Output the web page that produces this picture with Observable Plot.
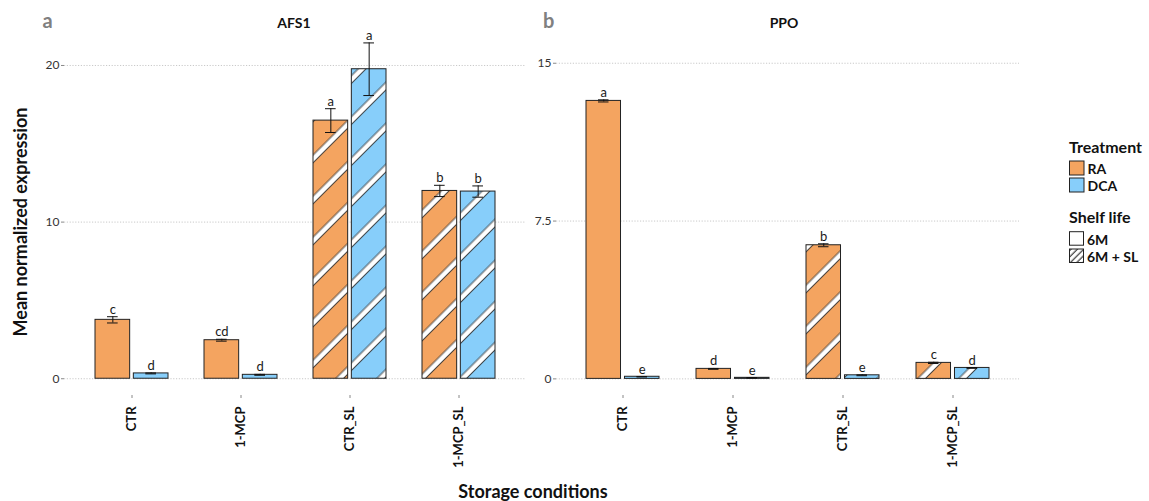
<!DOCTYPE html>
<html>
<head>
<meta charset="utf-8">
<script src="https://cdn.jsdelivr.net/npm/d3@7"></script>
<script src="https://cdn.jsdelivr.net/npm/@observablehq/plot@0.6"></script>
<style>
  body { margin: 0; background: #fff; }
  #wrap { position: relative; width: 1149px; height: 501px; overflow: hidden; font-family: Lato, "Open Sans", sans-serif; }
  #wrap > svg { position: absolute; top: 0; }
</style>
</head>
<body>
<div id="wrap"></div>
<script>
// Storage conditions and treatments
const conditions = ["CTR", "1-MCP", "CTR_SL", "1-MCP_SL"];
const treatments = ["RA", "DCA"];
const shelfLifeLevels = ["6M", "6M + SL"];
const shelfLife = ["6M", "6M", "6M + SL", "6M + SL"];

// AFS1: mean normalized expression, standard error, significance letters
const afs1RA = [3.76, 2.46, 16.48, 11.99];
const afs1RAse = [0.20, 0.06, 0.76, 0.36];
const afs1RAletters = ["c", "cd", "a", "b"];
const afs1DCA = [0.34, 0.25, 19.76, 11.95];
const afs1DCAse = [0.03, 0.03, 1.68, 0.36];
const afs1DCAletters = ["d", "d", "a", "b"];

// PPO
const ppoRA = [13.21, 0.475, 6.35, 0.76];
const ppoRAse = [0.05, 0.02, 0.07, 0.03];
const ppoRAletters = ["a", "d", "b", "c"];
const ppoDCA = [0.10, 0.05, 0.17, 0.52];
const ppoDCAse = [0.01, 0.01, 0.02, 0.02];
const ppoDCAletters = ["e", "e", "e", "d"];

const afs1Ticks = [0, 10, 20];
const ppoTicks = [0, 7.5, 15];

const treatmentColors = ["#F4A460", "#87CEFA"];

function buildRows(ra, raSe, raLet, dca, dcaSe, dcaLet) {
  return conditions.flatMap((c, i) => [
    {condition: c, treatment: "RA", shelf: shelfLife[i], mean: ra[i], se: raSe[i], letter: raLet[i]},
    {condition: c, treatment: "DCA", shelf: shelfLife[i], mean: dca[i], se: dcaSe[i], letter: dcaLet[i]}
  ]);
}

const afs1Rows = buildRows(afs1RA, afs1RAse, afs1RAletters, afs1DCA, afs1DCAse, afs1DCAletters);
const ppoRows = buildRows(ppoRA, ppoRAse, ppoRAletters, ppoDCA, ppoDCAse, ppoDCAletters);

function panel({rows, yDomain, yTicks, left, width, marginLeft, marginRight, id}) {
  const paddingInner = 1 / 3, paddingOuter = 0.2667;
  const plotW = width - marginLeft - marginRight;
  const step = plotW / (conditions.length - paddingInner + 2 * paddingOuter);
  const bw = step * (1 - paddingInner);   // width of a dodged pair
  const barW = 35;                         // width of one bar
  const gap = bw - barW;
  const off = gap / 2;
  const capHalf = 5.5;

  const marks = [
    Plot.ruleY(yTicks, {stroke: "#c9c9c9", strokeDasharray: "1.2,1.6", strokeWidth: 1})
  ];
  for (const t of treatments) {
    const data = rows.filter(d => d.treatment === t);
    const hatched = data.filter(d => d.shelf === "6M + SL");
    const isRA = t === "RA";
    const inset = isRA ? {insetRight: gap} : {insetLeft: gap};
    const dx = isRA ? -off : off;
    const capInset = isRA
      ? {insetLeft: barW / 2 - capHalf, insetRight: bw - barW / 2 - capHalf}
      : {insetLeft: bw - barW / 2 - capHalf, insetRight: barW / 2 - capHalf};
    marks.push(
      Plot.barY(data, {x: "condition", y: "mean", fill: "treatment", ...inset}),
      Plot.barY(hatched, {x: "condition", y: "mean", fill: `url(#${id}-hatch)`, ...inset}),
      Plot.barY(data, {x: "condition", y: "mean", fill: "none", stroke: "#222", strokeWidth: 1, ...inset}),
      Plot.ruleX(data, {x: "condition", y1: d => d.mean - d.se, y2: d => d.mean + d.se, dx, stroke: "#111", strokeWidth: 1}),
      Plot.tickY(data, {x: "condition", y: d => d.mean + d.se, stroke: "#111", strokeWidth: 1, ...capInset}),
      Plot.tickY(data, {x: "condition", y: d => d.mean - d.se, stroke: "#111", strokeWidth: 1, ...capInset}),
      Plot.text(data, {x: "condition", y: d => d.mean + d.se, text: "letter", dx, dy: -3, lineAnchor: "bottom", fontSize: 13, fill: "#1a1a1a"})
    );
  }
  marks.push(
    Plot.axisY({ticks: yTicks, tickFormat: d => String(d), tickSize: 3, tickPadding: 2, label: null, fontSize: 12, fill: "#333", stroke: "#888"}),
    Plot.axisX({tickRotate: -90, tickSize: 3, tickPadding: 8, label: null, fontSize: 13, fontWeight: "bold", fill: "#111", stroke: "#888"})
  );

  const svg = Plot.plot({
    width, height: 470,
    marginLeft, marginRight, marginTop: 25.5, marginBottom: 75,
    style: {background: "transparent", fontFamily: "Lato, 'Open Sans', sans-serif"},
    x: {domain: conditions, paddingInner, paddingOuter},
    y: {domain: yDomain},
    color: {domain: treatments, range: treatmentColors},
    marks
  });
  svg.insertAdjacentHTML("afterbegin",
    `<defs><pattern id="${id}-hatch" patternUnits="userSpaceOnUse" width="29" height="29" patternTransform="rotate(45)">
       <rect x="12" y="0" width="5.5" height="29" fill="#fff"/>
       <line x1="12" y1="0" x2="12" y2="29" stroke="#222" stroke-width="0.8"/>
       <line x1="17.5" y1="0" x2="17.5" y2="29" stroke="#222" stroke-width="0.8"/>
     </pattern></defs>`);
  svg.style.left = left + "px";
  return svg;
}

const wrap = document.getElementById("wrap");
wrap.appendChild(panel({rows: afs1Rows, yDomain: [-1.07, 22.52], yTicks: afs1Ticks, left: 0, width: 530, marginLeft: 64, marginRight: 4, id: "afs1"}));
wrap.appendChild(panel({rows: ppoRows, yDomain: [-0.79, 16.77], yTicks: ppoTicks, left: 500, width: 525, marginLeft: 56, marginRight: 6, id: "ppo"}));

// Titles, axis titles and legend
const ann = d3.create("svg").attr("width", 1149).attr("height", 501)
  .style("font-family", "Lato, 'Open Sans', sans-serif").style("left", "0px");
ann.append("defs").html(
  `<pattern id="legend-hatch" patternUnits="userSpaceOnUse" width="4.5" height="4.5" patternTransform="rotate(45)">
     <line x1="2" y1="0" x2="2" y2="4.5" stroke="#111" stroke-width="1"/>
   </pattern>`);

const panelLetters = [{t: "a", x: 42.5}, {t: "b", x: 543}];
ann.selectAll("text.letter").data(panelLetters).join("text")
  .attr("x", d => d.x).attr("y", 28.3).attr("font-size", 20).attr("font-weight", "bold")
  .attr("fill", "#808080").text(d => d.t);

const panelTitles = [{t: "AFS1", x: 294}, {t: "PPO", x: 784}];
ann.selectAll("text.title").data(panelTitles).join("text")
  .attr("x", d => d.x).attr("y", 27.5).attr("text-anchor", "middle").attr("font-size", 14)
  .attr("font-weight", "bold").attr("fill", "#111").text(d => d.t);

ann.append("text").attr("transform", "translate(27,222) rotate(-90)").attr("text-anchor", "middle")
  .attr("font-size", 18).attr("font-weight", "bold").attr("fill", "#111").text("Mean normalized expression");
ann.append("text").attr("x", 533).attr("y", 497.5).attr("text-anchor", "middle")
  .attr("font-size", 18).attr("font-weight", "bold").attr("fill", "#111").text("Storage conditions");

const lg = ann.append("g").attr("font-weight", "bold").attr("font-size", 14).attr("fill", "#111");
lg.append("text").attr("x", 1069).attr("y", 152.7).attr("font-size", 16).text("Treatment");
treatments.forEach((t, i) => {
  const y = 161 + i * 17;
  lg.append("rect").attr("x", 1069.5).attr("y", y).attr("width", 14.5).attr("height", 14)
    .attr("fill", treatmentColors[i]).attr("stroke", "#222").attr("stroke-width", 1);
  lg.append("text").attr("x", 1087.5).attr("y", y + 12.8).text(t);
});
lg.append("text").attr("x", 1069).attr("y", 222.7).attr("font-size", 16).text("Shelf life");
shelfLifeLevels.forEach((s, i) => {
  const y = 231.7 + i * 17.3;
  lg.append("rect").attr("x", 1069.5).attr("y", y).attr("width", 14).attr("height", 13.5)
    .attr("fill", i === 0 ? "#fff" : "url(#legend-hatch)").attr("stroke", "#222").attr("stroke-width", 1);
  lg.append("text").attr("x", 1087).attr("y", y + 12.8).text(s);
});

wrap.appendChild(ann.node());
</script>
</body>
</html>
